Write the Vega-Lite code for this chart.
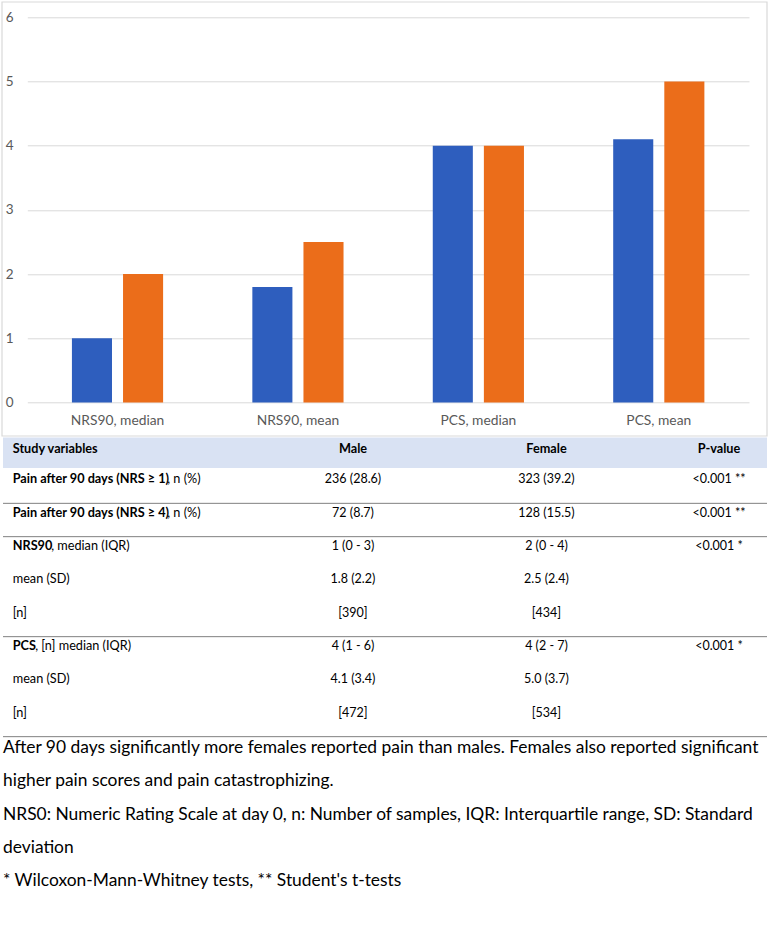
{
  "$schema": "https://vega.github.io/schema/vega-lite/v6.json",
  "width": 721.7,
  "height": 385.2,
  "autosize": {"type": "none"},
  "padding": {"left": 27.3, "top": 17.3, "right": 24, "bottom": 539.5},
  "background": "white",
  "config": {"font": "Lato", "view": {"stroke": null}},
  "datasets": {
    "bars": [
      {"cat": "NRS90, median", "sex": "Male", "v": 1},
      {"cat": "NRS90, median", "sex": "Female", "v": 2},
      {"cat": "NRS90, mean", "sex": "Male", "v": 1.8},
      {"cat": "NRS90, mean", "sex": "Female", "v": 2.5},
      {"cat": "PCS, median", "sex": "Male", "v": 4},
      {"cat": "PCS, median", "sex": "Female", "v": 4},
      {"cat": "PCS, mean", "sex": "Male", "v": 4.1},
      {"cat": "PCS, mean", "sex": "Female", "v": 5}
    ],
    "frame": [{"x0": -2, "x1": 4, "y0": -2, "y1": -1}],
    "rows": [
      {"r": 0, "sep": false, "bold": "Study variables", "rest": "", "g": "h"},
      {"r": 1, "sep": true, "bold": "Pain after 90 days (NRS ≥ 1)", "rest": ", n (%)", "g": "pain"},
      {"r": 2, "sep": true, "bold": "Pain after 90 days (NRS ≥ 4)", "rest": ", n (%)", "g": "pain"},
      {"r": 3, "sep": false, "bold": "NRS90", "rest": ", median (IQR)", "g": "nrs"},
      {"r": 4, "sep": false, "bold": "", "rest": "mean (SD)", "g": "plain"},
      {"r": 5, "sep": true, "bold": "", "rest": "[n]", "g": "plain"},
      {"r": 6, "sep": false, "bold": "PCS", "rest": ", [n] median (IQR)", "g": "pcs"},
      {"r": 7, "sep": false, "bold": "", "rest": "mean (SD)", "g": "plain"},
      {"r": 8, "sep": true, "bold": "", "rest": "[n]", "g": "plain"}
    ],
    "cells": [
      {"r": 0, "c": 1, "t": "Male"},
      {"r": 0, "c": 2, "t": "Female"},
      {"r": 0, "c": 3, "t": "P-value"},
      {"r": 1, "c": 1, "t": "236 (28.6)"},
      {"r": 1, "c": 2, "t": "323 (39.2)"},
      {"r": 1, "c": 3, "t": "<0.001 **"},
      {"r": 2, "c": 1, "t": "72 (8.7)"},
      {"r": 2, "c": 2, "t": "128 (15.5)"},
      {"r": 2, "c": 3, "t": "<0.001 **"},
      {"r": 3, "c": 1, "t": "1 (0 - 3)"},
      {"r": 3, "c": 2, "t": "2 (0 - 4)"},
      {"r": 3, "c": 3, "t": "<0.001 *"},
      {"r": 4, "c": 1, "t": "1.8 (2.2)"},
      {"r": 4, "c": 2, "t": "2.5 (2.4)"},
      {"r": 5, "c": 1, "t": "[390]"},
      {"r": 5, "c": 2, "t": "[434]"},
      {"r": 6, "c": 1, "t": "4 (1 - 6)"},
      {"r": 6, "c": 2, "t": "4 (2 - 7)"},
      {"r": 6, "c": 3, "t": "<0.001 *"},
      {"r": 7, "c": 1, "t": "4.1 (3.4)"},
      {"r": 7, "c": 2, "t": "5.0 (3.7)"},
      {"r": 8, "c": 1, "t": "[472]"},
      {"r": 8, "c": 2, "t": "[534]"}
    ],
    "caption": [
      {"r": 9, "t": "After 90 days significantly more females reported pain than males. Females also reported significant"},
      {"r": 10, "t": "higher pain scores and pain catastrophizing."},
      {"r": 11, "t": "NRS0: Numeric Rating Scale at day 0, n: Number of samples, IQR: Interquartile range, SD: Standard"},
      {"r": 12, "t": "deviation"},
      {"r": 13, "t": "* Wilcoxon-Mann-Whitney tests, ** Student's t-tests"}
    ]
  },
  "resolve": {"scale": {"x": "independent", "y": "independent"}, "axis": {"x": "independent", "y": "independent"}},
  "layer": [
    {
      "data": {"name": "bars"},
      "mark": {"type": "bar"},
      "encoding": {
        "x": {
          "field": "cat", "type": "nominal", "sort": null,
          "scale": {"paddingInner": 0, "paddingOuter": 0},
          "axis": {"title": null, "orient": "bottom", "domain": false, "ticks": false, "labelAngle": 0,
                   "labelBaseline": "middle", "labelPadding": 17.5, "labelFontSize": 13.8, "labelColor": "#595959", "labelFont": "Lato", "grid": false}
        },
        "xOffset": {
          "field": "sex", "type": "nominal", "sort": ["Male", "Female"],
          "scale": {"paddingInner": 0.216, "paddingOuter": 0.873}
        },
        "y": {
          "field": "v", "type": "quantitative",
          "scale": {"domain": [0, 6], "nice": false, "zero": true},
          "axis": {"title": null, "orient": "left", "domain": false, "ticks": false, "values": [0, 1, 2, 3, 4, 5, 6],
                   "labelPadding": 14.3, "labelFontSize": 13.5, "labelColor": "#595959", "labelFont": "Lato",
                   "grid": true, "gridColor": "#D9D9D9", "gridWidth": 1}
        },
        "color": {
          "field": "sex", "type": "nominal",
          "scale": {"domain": ["Male", "Female"], "range": ["#2E5EBE", "#EB6D1A"]},
          "legend": null
        }
      }
    },
    {
      "encoding": {
        "x": {"type": "quantitative", "scale": {"domain": [-2, -1, 0, 1, 2, 3, 4], "range": [-25.3, -24.3, -14.6, 325.7, 519.2, 691.7, 739.7], "nice": false, "zero": false}, "axis": null},
        "y": {"field": "r", "type": "quantitative", "scale": {"domain": [-2, -1, 0, 15], "range": [-15.3, 418.7, 428.7, 928.7], "nice": false, "zero": false}, "axis": null}
      },
      "layer": [
        {
          "data": {"name": "frame"},
          "mark": {"type": "rect", "filled": false, "color": "#D9D9D9", "strokeWidth": 1.2},
          "encoding": {
            "x": {"field": "x0", "type": "quantitative"},
            "x2": {"field": "x1"},
            "y": {"field": "y0", "type": "quantitative"},
            "y2": {"field": "y1"}
          }
        },
        {
          "data": {"name": "rows"},
          "transform": [{"filter": "datum.r == 0"}],
          "mark": {"type": "rule", "color": "#D9E2F3", "strokeWidth": 30.5, "yOffset": 6.85, "strokeCap": "butt"},
          "encoding": {"x": {"datum": -1, "type": "quantitative"}, "x2": {"datum": 4}, "y": {"field": "r", "type": "quantitative"}}
        },
        {
          "data": {"name": "rows"},
          "transform": [{"filter": "datum.sep"}],
          "mark": {"type": "rule", "color": "#808080", "strokeWidth": 1, "yOffset": 24},
          "encoding": {"x": {"datum": -1, "type": "quantitative"}, "x2": {"datum": 4}, "y": {"field": "r", "type": "quantitative"}}
        },
        {
          "data": {"name": "rows"},
          "transform": [{"filter": "datum.r == 0"}],
          "mark": {"type": "text", "align": "left", "baseline": "middle", "fontWeight": "bold", "fontSize": 12.7, "color": "#000000", "dy": 3},
          "encoding": {"x": {"datum": 0, "type": "quantitative"}, "y": {"field": "r", "type": "quantitative"}, "text": {"field": "bold"}}
        },
        {
          "data": {"name": "rows"},
          "transform": [{"filter": "datum.r > 0"}],
          "mark": {"type": "text", "align": "left", "baseline": "middle", "fontWeight": "bold", "fontSize": 12.7, "color": "#000000"},
          "encoding": {"x": {"datum": 0, "type": "quantitative"}, "y": {"field": "r", "type": "quantitative"}, "text": {"field": "bold"}}
        },
        {
          "data": {"name": "rows"},
          "transform": [{"filter": "datum.g == 'pain'"}],
          "mark": {"type": "text", "align": "left", "baseline": "middle", "fontSize": 12.7, "color": "#000000", "dx": 154.5},
          "encoding": {"x": {"datum": 0, "type": "quantitative"}, "y": {"field": "r", "type": "quantitative"}, "text": {"field": "rest"}}
        },
        {
          "data": {"name": "rows"},
          "transform": [{"filter": "datum.g == 'nrs'"}],
          "mark": {"type": "text", "align": "left", "baseline": "middle", "fontSize": 12.7, "color": "#000000", "dx": 38.5},
          "encoding": {"x": {"datum": 0, "type": "quantitative"}, "y": {"field": "r", "type": "quantitative"}, "text": {"field": "rest"}}
        },
        {
          "data": {"name": "rows"},
          "transform": [{"filter": "datum.g == 'pcs'"}],
          "mark": {"type": "text", "align": "left", "baseline": "middle", "fontSize": 12.7, "color": "#000000", "dx": 22.5},
          "encoding": {"x": {"datum": 0, "type": "quantitative"}, "y": {"field": "r", "type": "quantitative"}, "text": {"field": "rest"}}
        },
        {
          "data": {"name": "rows"},
          "transform": [{"filter": "datum.g == 'plain'"}],
          "mark": {"type": "text", "align": "left", "baseline": "middle", "fontSize": 12.7, "color": "#000000"},
          "encoding": {"x": {"datum": 0, "type": "quantitative"}, "y": {"field": "r", "type": "quantitative"}, "text": {"field": "rest"}}
        },
        {
          "data": {"name": "cells"},
          "transform": [{"filter": "datum.r == 0"}],
          "mark": {"type": "text", "align": "center", "baseline": "middle", "fontSize": 12.7, "fontWeight": "bold", "color": "#000000", "dy": 3},
          "encoding": {"x": {"field": "c", "type": "quantitative"}, "y": {"field": "r", "type": "quantitative"}, "text": {"field": "t"}}
        },
        {
          "data": {"name": "cells"},
          "transform": [{"filter": "datum.r > 0"}],
          "mark": {"type": "text", "align": "center", "baseline": "middle", "fontSize": 12.5, "color": "#000000"},
          "encoding": {"x": {"field": "c", "type": "quantitative"}, "y": {"field": "r", "type": "quantitative"}, "text": {"field": "t"}}
        },
        {
          "data": {"name": "caption"},
          "mark": {"type": "text", "align": "left", "baseline": "middle", "fontSize": 17.4, "color": "#000000", "dy": 2},
          "encoding": {"x": {"datum": -1, "type": "quantitative"}, "y": {"field": "r", "type": "quantitative"}, "text": {"field": "t"}}
        }
      ]
    }
  ]
}
